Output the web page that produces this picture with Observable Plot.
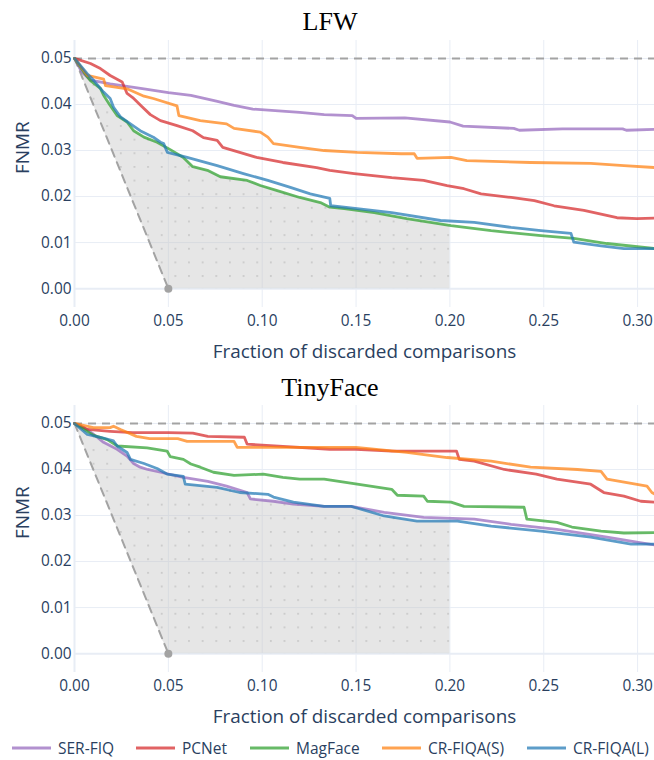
<!DOCTYPE html>
<html><head><meta charset="utf-8">
<script src="https://cdn.jsdelivr.net/npm/d3@7"></script>
<script src="https://cdn.jsdelivr.net/npm/@observablehq/plot@0.6"></script>
<style>
body{margin:0;background:#fff;width:654px;height:760px;position:relative;overflow:hidden;font-family:"Open Sans",sans-serif}
.chart{position:absolute;left:0}
#overlay{position:absolute;left:0;top:0;pointer-events:none}
</style></head><body>
<div id="c1" class="chart" style="top:0px"></div>
<div id="c2" class="chart" style="top:365px"></div>
<svg id="overlay" width="654" height="760"></svg>
<script>
// ---------- data ----------
const seriesNames = ["SER-FIQ", "PCNet", "MagFace", "CR-FIQA(S)", "CR-FIQA(L)"];
const seriesColors = ["#9467bd", "#d62728", "#2ca02c", "#ff7f0e", "#1f77b4"];
const panelTitles = ["LFW", "TinyFace"];
const xTicks = [0, 0.05, 0.10, 0.15, 0.20, 0.25, 0.30];
const yTicks = [0, 0.01, 0.02, 0.03, 0.04, 0.05];
const oracleX = [0, 0.05];
const oracleY = [0.05, 0];
const startFnmr = 0.05;
const shadeEnd = 0.2;
const xLabel = "Fraction of discarded comparisons";
const yLabel = "FNMR";

// LFW
const lfwSER = [[0,0.05],[0.004,0.047],[0.0085,0.0453],[0.019,0.0445],[0.037,0.0434],[0.05,0.0426],[0.062,0.042],[0.075,0.0408],[0.085,0.0398],[0.095,0.039],[0.12,0.0383],[0.133,0.0378],[0.148,0.0376],[0.15,0.037],[0.176,0.0371],[0.2,0.0362],[0.207,0.0353],[0.234,0.0348],[0.237,0.0344],[0.26,0.0347],[0.292,0.0347],[0.294,0.0344],[0.309,0.0346]];
const lfwPCN = [[0,0.05],[0.0085,0.0489],[0.0138,0.0478],[0.019,0.0463],[0.0254,0.0449],[0.028,0.0424],[0.031,0.0415],[0.036,0.0395],[0.0404,0.0378],[0.0458,0.0365],[0.0546,0.0354],[0.063,0.0343],[0.0687,0.0328],[0.076,0.0322],[0.079,0.0307],[0.088,0.0296],[0.097,0.0285],[0.111,0.0274],[0.129,0.0263],[0.136,0.0257],[0.149,0.025],[0.169,0.0241],[0.186,0.0235],[0.1985,0.0224],[0.2075,0.0217],[0.2166,0.0206],[0.2326,0.0198],[0.245,0.0191],[0.2555,0.018],[0.2714,0.017],[0.289,0.0154],[0.2996,0.0152],[0.309,0.0153]];
const lfwMAG = [[0,0.05],[0.005,0.047],[0.0085,0.0452],[0.0138,0.0435],[0.0155,0.042],[0.019,0.0398],[0.0227,0.0376],[0.028,0.0362],[0.0315,0.0343],[0.037,0.0329],[0.044,0.0318],[0.051,0.0302],[0.058,0.0285],[0.063,0.0265],[0.0708,0.0257],[0.0777,0.0243],[0.092,0.0235],[0.099,0.0224],[0.108,0.0213],[0.12,0.0198],[0.131,0.0187],[0.136,0.0177],[0.1437,0.0174],[0.1597,0.0165],[0.177,0.0152],[0.2006,0.0137],[0.222,0.0126],[0.2485,0.0115],[0.266,0.0109],[0.2837,0.0098],[0.309,0.0087]];
const lfwCRS = [[0,0.05],[0.0069,0.0463],[0.0155,0.0455],[0.0165,0.0441],[0.028,0.0434],[0.037,0.0418],[0.042,0.0413],[0.0546,0.0397],[0.0556,0.0376],[0.067,0.0365],[0.081,0.0358],[0.085,0.0348],[0.099,0.034],[0.103,0.0329],[0.106,0.0315],[0.12,0.0307],[0.133,0.03],[0.1506,0.0296],[0.174,0.0293],[0.181,0.0293],[0.1825,0.0283],[0.2006,0.0285],[0.209,0.0278],[0.243,0.0274],[0.275,0.0272],[0.2927,0.0267],[0.309,0.0263]];
const lfwCRL = [[0,0.05],[0.0068,0.0467],[0.0103,0.0452],[0.0155,0.0427],[0.019,0.0413],[0.0208,0.0394],[0.0245,0.0373],[0.0298,0.0358],[0.035,0.0343],[0.042,0.0329],[0.0458,0.0318],[0.0475,0.0315],[0.0495,0.0296],[0.06,0.0285],[0.076,0.0267],[0.09,0.025],[0.103,0.0235],[0.115,0.022],[0.1256,0.0206],[0.136,0.0196],[0.1365,0.018],[0.1506,0.0174],[0.169,0.0165],[0.195,0.0148],[0.213,0.0144],[0.2326,0.0133],[0.2485,0.0126],[0.2645,0.012],[0.266,0.0101],[0.2805,0.0093],[0.2927,0.0087],[0.309,0.0087]];

// TinyFace
const tinySER = [[0,0.05],[0.005,0.0491],[0.0103,0.0476],[0.0155,0.0459],[0.0227,0.0444],[0.028,0.0429],[0.0315,0.0413],[0.035,0.0405],[0.039,0.04],[0.0458,0.0394],[0.058,0.0383],[0.071,0.0374],[0.081,0.0364],[0.092,0.035],[0.0937,0.0336],[0.106,0.0331],[0.1166,0.0325],[0.133,0.032],[0.1474,0.032],[0.165,0.0307],[0.186,0.0296],[0.213,0.0292],[0.2326,0.0281],[0.257,0.027],[0.2837,0.0253],[0.2996,0.0242],[0.309,0.0236]];
const tinyPCN = [[0,0.05],[0.0069,0.0487],[0.019,0.0483],[0.031,0.048],[0.05,0.048],[0.063,0.0479],[0.071,0.0472],[0.0905,0.047],[0.092,0.0455],[0.111,0.045],[0.136,0.0444],[0.15,0.0444],[0.169,0.044],[0.2035,0.044],[0.205,0.0422],[0.213,0.0418],[0.229,0.04],[0.246,0.039],[0.257,0.0379],[0.275,0.0368],[0.282,0.035],[0.2927,0.0342],[0.3017,0.0331],[0.309,0.0329]];
const tinyMAG = [[0,0.05],[0.005,0.0487],[0.0103,0.0474],[0.0174,0.0465],[0.0229,0.0451],[0.0387,0.0447],[0.0493,0.044],[0.051,0.0428],[0.058,0.0422],[0.062,0.0412],[0.067,0.0405],[0.074,0.0394],[0.085,0.0387],[0.1006,0.039],[0.111,0.0383],[0.12,0.0379],[0.133,0.0379],[0.1506,0.0368],[0.169,0.0357],[0.172,0.0344],[0.186,0.0342],[0.188,0.0331],[0.2006,0.0329],[0.2075,0.032],[0.2395,0.0318],[0.241,0.0292],[0.257,0.0285],[0.265,0.0275],[0.2805,0.0266],[0.2927,0.0262],[0.309,0.0263]];
const tinyCRS = [[0,0.05],[0.0101,0.0491],[0.019,0.0491],[0.0208,0.0494],[0.0245,0.0487],[0.033,0.0472],[0.04,0.0467],[0.055,0.0467],[0.06,0.0461],[0.085,0.0461],[0.0867,0.0448],[0.111,0.0448],[0.15,0.0448],[0.177,0.0437],[0.1985,0.0426],[0.222,0.0418],[0.243,0.0405],[0.268,0.04],[0.2805,0.0396],[0.2837,0.0379],[0.305,0.0364],[0.3076,0.035],[0.309,0.0347]];
const tinyCRL = [[0,0.05],[0.0068,0.0476],[0.0138,0.047],[0.0208,0.0462],[0.0227,0.0451],[0.028,0.0437],[0.0298,0.0422],[0.037,0.0413],[0.044,0.0402],[0.0493,0.039],[0.058,0.0385],[0.059,0.0368],[0.076,0.0361],[0.088,0.035],[0.103,0.0346],[0.106,0.034],[0.1166,0.0329],[0.133,0.032],[0.1474,0.032],[0.165,0.0299],[0.1825,0.0288],[0.204,0.0288],[0.222,0.0277],[0.2485,0.0266],[0.275,0.0253],[0.2965,0.0238],[0.309,0.0238]];

const lfwSeries = [lfwSER, lfwPCN, lfwMAG, lfwCRS, lfwCRL];
const tinySeries = [tinySER, tinyPCN, tinyMAG, tinyCRS, tinyCRL];

// ---------- helpers ----------
function interp(pts, x) {
  for (let i = 1; i < pts.length; i++) {
    if (x <= pts[i][0]) {
      const [x0, y0] = pts[i - 1], [x1, y1] = pts[i];
      return x1 === x0 ? y1 : y0 + (y1 - y0) * (x - x0) / (x1 - x0);
    }
  }
  return pts[pts.length - 1][1];
}

const GRID = "#e8edf5";
const TXT = "#2a3f5f";
const DASH = "#a3a3a3";

function makeChart(seriesList, id) {
  const rows = seriesList.flatMap((pts, k) => pts.map(([x, y]) => ({name: seriesNames[k], x, y})));
  const xs = d3.range(0, shadeEnd + 1e-9, 0.0005);
  const oraclePts = oracleX.map((v, i) => [v, oracleY[i]]);
  const shade = xs.map(x => ({
    x,
    lo: Math.max(0, interp(oraclePts, Math.min(x, 0.05))),
    hi: Math.min(...seriesList.map(p => interp(p, x)))
  }));
  const oracle = oracleX.map((x, i) => ({x, y: oracleY[i]}));
  const svg = Plot.plot({
    width: 654, height: 365,
    marginLeft: 74, marginRight: 0, marginTop: 40, marginBottom: 58,
    style: {fontFamily: "'Open Sans', sans-serif", color: TXT, background: "#fff"},
    x: {domain: [0, 0.309]},
    y: {domain: [-0.0041, 0.0539]},
    color: {domain: seriesNames, range: seriesColors},
    marks: [
      Plot.ruleX(xTicks.slice(1), {stroke: GRID, strokeWidth: 1}),
      Plot.ruleY(yTicks.slice(1), {stroke: GRID, strokeWidth: 1}),
      Plot.ruleX([0], {stroke: GRID, strokeWidth: 2}),
      Plot.ruleY([0], {stroke: GRID, strokeWidth: 2}),
      Plot.areaY(shade, {x: "x", y1: "lo", y2: "hi", fill: "#c4c4c4", fillOpacity: 0.42}),
      Plot.areaY(shade, {x: "x", y1: "lo", y2: "hi", fill: `url(#${id})`}),
      Plot.ruleY([startFnmr], {stroke: DASH, strokeWidth: 2, strokeDasharray: "8,6"}),
      Plot.line(oracle, {x: "x", y: "y", stroke: DASH, strokeWidth: 2, strokeDasharray: "8,6"}),
      Plot.dot(oracle.slice(1), {x: "x", y: "y", r: 4, fill: "#a3a3a3", stroke: "none"}),
      Plot.line(rows, {x: "x", y: "y", z: "name", stroke: "name", strokeWidth: 2.8, strokeOpacity: 0.72}),
      Plot.axisX(xTicks, {tickSize: 0, tickPadding: 8, tickFormat: d3.format(".2f"), fontSize: 15.4, label: null}),
      Plot.axisY(yTicks, {tickSize: 0, tickPadding: 3, tickFormat: d3.format(".2f"), fontSize: 15.4, label: null}),
      Plot.text([xLabel], {text: d => d, frameAnchor: "bottom", dy: 50, fontSize: 18.9, fill: TXT}),
      Plot.text([yLabel], {text: d => d, frameAnchor: "left", dx: -52, rotate: -90, fontSize: 18.9, fill: TXT})
    ]
  });
  const defs = d3.select(svg).insert("defs", ":first-child");
  const pat = defs.append("pattern").attr("id", id).attr("patternUnits", "userSpaceOnUse")
    .attr("x", 161.7 - 0.9).attr("y", 276 - 0.9).attr("width", 13.64).attr("height", 13.64);
  pat.append("rect").attr("x", 0).attr("y", 0).attr("width", 1.8).attr("height", 1.8).attr("fill", "#c9c9c9");
  return svg;
}

document.getElementById("c1").appendChild(makeChart(lfwSeries, "dots1"));
document.getElementById("c2").appendChild(makeChart(tinySeries, "dots2"));

// ---------- titles & legend ----------
const ov = d3.select("#overlay");
const titleY = [30, 396];
panelTitles.forEach((t, i) => {
  ov.append("text").attr("x", 330).attr("y", titleY[i]).attr("text-anchor", "middle")
    .attr("font-family", "'Liberation Serif', serif").attr("font-size", 26).attr("fill", "#000").text(t);
});
const legendX = [12, 136, 250, 382, 527];
seriesNames.forEach((n, i) => {
  const g = ov.append("g").attr("transform", `translate(${legendX[i]},748)`);
  g.append("line").attr("x1", 0).attr("x2", 39).attr("y1", 0).attr("y2", 0)
    .attr("stroke", seriesColors[i]).attr("stroke-opacity", 0.72).attr("stroke-width", 3);
  g.append("text").attr("x", 46).attr("y", 5.5).attr("font-family", "'Open Sans', sans-serif")
    .attr("font-size", 15.5).attr("fill", TXT).text(n);
});
</script>
</body></html>
